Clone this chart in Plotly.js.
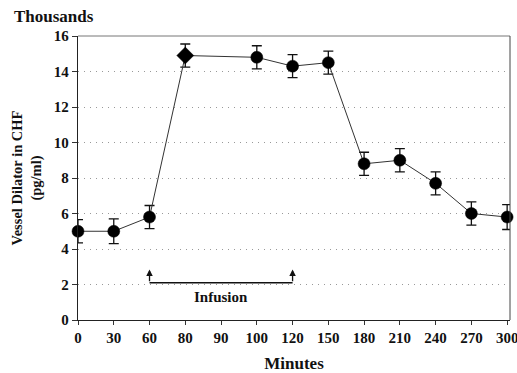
<!DOCTYPE html>
<html>
<head>
<meta charset="utf-8">
<script src="https://cdn.plot.ly/plotly-3.0.1.min.js"></script>
<style>html,body{margin:0;padding:0;background:#fff}#chart{width:517px;height:373px}</style>
</head>
<body>
<div id="chart"></div>
<script>
// Tick labels of the (evenly spaced) x axis
const xTickLabels = ['0','30','60','80','90','100','120','150','180','210','240','270','300'];
// Measurement times (minutes) and values (thousands of pg/ml)
const minutes = ['0','30','60','80','100','120','150','180','210','240','270','300'];
const vesselDilator = [5.0, 5.0, 5.8, 14.9, 14.8, 14.3, 14.5, 8.8, 9.0, 7.7, 6.0, 5.8];
const errorValues = [0.65, 0.7, 0.65, 0.65, 0.65, 0.65, 0.65, 0.65, 0.65, 0.65, 0.65, 0.7];
const yTicks = [0, 2, 4, 6, 8, 10, 12, 14, 16];
// Infusion period
const infusionStart = '60';
const infusionEnd = '120';
const infusionLevel = 2.1;
const infusionArrowTop = 2.85;
const infusionLabelAt = '90';
const infusionLabelLevel = 1.3;

const idx = c => xTickLabels.indexOf(c);
const symbols = minutes.map(m => m === '80' ? 'diamond' : 'circle');
const sizes = minutes.map(m => m === '80' ? 13 : 12);

const fam = '"Liberation Serif", "Times New Roman", serif';
const tickFont = {family: fam, size: 15, color: '#111', weight: 'bold'};
const titleFont = {family: fam, size: 15, color: '#111', weight: 'bold'};

const trace = {
  x: minutes, y: vesselDilator, type: 'scatter', mode: 'lines+markers',
  line: {color: '#333', width: 1},
  marker: {color: '#000', size: sizes, symbol: symbols, opacity: 1, line: {color: '#000', width: 0.5}},
  error_y: {type: 'data', array: errorValues, visible: true, color: '#111', thickness: 1.3, width: 5},
  cliponaxis: false, hoverinfo: 'skip'
};

const layout = {
  width: 517, height: 373,
  margin: {l: 78, r: 7, t: 36, b: 53},
  paper_bgcolor: '#fff', plot_bgcolor: '#fff',
  showlegend: false,
  font: {family: fam, size: 15, color: '#111'},
  xaxis: {
    type: 'category', categoryorder: 'array', categoryarray: xTickLabels,
    range: [0, 12.08], autorange: false,
    showgrid: false, zeroline: false,
    showline: true, linecolor: '#222', linewidth: 1.2,
    ticks: 'outside', ticklen: 4, tickcolor: '#333',
    tickfont: tickFont,
    title: {text: 'Minutes', font: {family: fam, size: 17, color: '#111', weight: 'bold'}, standoff: 12}
  },
  yaxis: {
    range: [0, 16], autorange: false,
    tickvals: yTicks,
    showgrid: true, gridcolor: '#999', griddash: '1px,5px', gridwidth: 1,
    zeroline: false,
    showline: true, linecolor: '#222', linewidth: 1.2,
    ticks: 'outside', ticklen: 5, tickcolor: '#333',
    tickfont: tickFont,
    title: {text: 'Vessel Dilator in CHF<br>(pg/ml)', font: {family: fam, size: 14.5, color: '#111', weight: 'bold'}, standoff: 8}
  },
  shapes: [
    {type: 'line', xref: 'paper', yref: 'paper', x0: 0, x1: 1, y0: 1, y1: 1, line: {color: '#777', width: 1}},
    {type: 'line', xref: 'paper', yref: 'paper', x0: 1, x1: 1, y0: 0, y1: 1, line: {color: '#444', width: 1}},
    {type: 'line', xref: 'x', yref: 'y', x0: idx(infusionStart), x1: idx(infusionEnd), y0: infusionLevel, y1: infusionLevel, line: {color: '#111', width: 1.3}}
  ],
  annotations: [
    {xref: 'paper', yref: 'paper', x: -66/432, y: 1 + 19/284, xanchor: 'left', yanchor: 'middle', text: 'Thousands', showarrow: false, font: {family: fam, size: 17, color: '#111', weight: 'bold'}},
    {xref: 'x', yref: 'y', x: idx(infusionStart), y: infusionArrowTop, axref: 'x', ayref: 'y', ax: idx(infusionStart), ay: infusionLevel, text: '', showarrow: true, arrowhead: 2, arrowsize: 1, arrowwidth: 1.3, arrowcolor: '#111'},
    {xref: 'x', yref: 'y', x: idx(infusionEnd), y: infusionArrowTop, axref: 'x', ayref: 'y', ax: idx(infusionEnd), ay: infusionLevel, text: '', showarrow: true, arrowhead: 2, arrowsize: 1, arrowwidth: 1.3, arrowcolor: '#111'},
    {xref: 'x', yref: 'y', x: idx(infusionLabelAt), y: infusionLabelLevel, text: 'Infusion', showarrow: false, font: titleFont}
  ]
};

Plotly.newPlot('chart', [trace], layout, {staticPlot: true, displayModeBar: false});
</script>
</body>
</html>
